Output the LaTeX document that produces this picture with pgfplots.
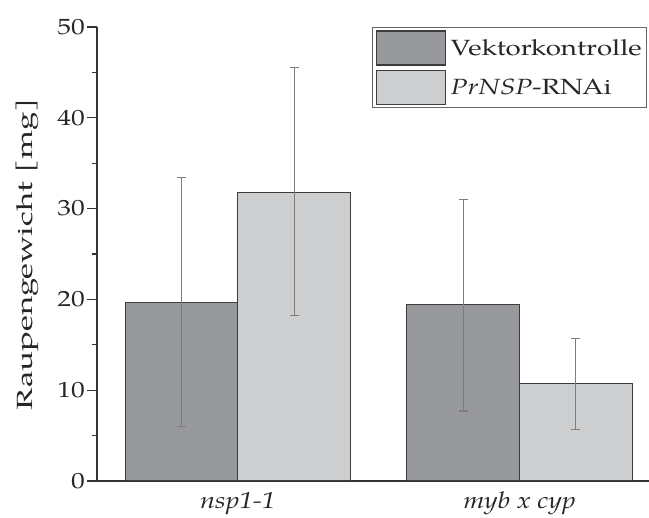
\documentclass[border=0pt]{standalone}
\usepackage{fontspec}
\setmainfont{TeX Gyre Pagella}
\newfontfamily\tickfont{TeX Gyre Pagella}[FakeStretch=1.25]
\newfontfamily\ylabfont{TeX Gyre Pagella}[FakeStretch=1.5]
\newfontfamily\legfont{TeX Gyre Pagella}[FakeStretch=1.26]
\newfontfamily\xlabfont{TeX Gyre Pagella}[FakeStretch=1.18]
\usepackage{pgfplots}
\pgfplotsset{compat=1.18}
\definecolor{darkbar}{RGB}{152,153,157}
\definecolor{lightbar}{RGB}{205,206,208}
\definecolor{edge}{RGB}{60,60,60}
\definecolor{errc}{RGB}{125,125,125}
\begin{document}
\begin{tikzpicture}
\begin{axis}[
  scale only axis, width=552pt, height=454pt,
  xmin=-0.5, xmax=1.46, ymin=0, ymax=50,
  axis x line=bottom, axis y line=left,
  axis line style={-, line width=1.3pt, color=black!80},
  ybar=0pt, bar width=0.4,
  xtick={0,1}, xticklabels={\textit{nsp1-1}, \textit{myb x cyp}},
  x tick style={draw=none},
  ytick={0,10,...,50}, minor y tick num=1,
  tick align=outside,
  major tick length=10pt, minor tick length=5pt,
  y tick style={line width=1.2pt, black!80},
  /pgf/number format/assume math mode=true,
  y tick label style={font=\tickfont\fontsize{22}{24}\selectfont, inner sep=2pt, text=black!85},
  x tick label style={font=\xlabfont\fontsize{23}{26}\selectfont, anchor=base, yshift=-18pt, text=black!85},
  ylabel={Raupengewicht [mg]},
  ylabel style={font=\ylabfont\fontsize{22}{24}\selectfont, inner sep=0pt, text=black!85,
    at={(axis description cs:-0.1051,0.5)}, anchor=south},
  legend style={at={(1,1)}, anchor=north east, xshift=-2pt, draw=black!60, line width=0.8pt,
    font=\legfont\fontsize{22}{24}\selectfont, row sep=4pt, column sep=3pt, inner sep=3pt, text=black!85},
  legend cell align=left,
  legend image code/.code={\draw[#1] (0pt,-17pt) rectangle (69pt,17pt);},
  error bars/y dir=both, error bars/y explicit,
  error bars/error bar style={errc, line width=1.2pt},
  error bars/error mark options={rotate=90, errc, mark size=4.5pt, line width=1.2pt},
]
\addplot[fill=darkbar, draw=edge, line width=1.2pt, bar shift=-0.2]
  coordinates {(0,19.7) += (0,13.7) -= (0,13.7)
               (1,19.4) += (0,11.6) -= (0,11.7)};
\addplot[fill=lightbar, draw=edge, line width=1.2pt, bar shift=0.2]
  coordinates {(0,31.8) += (0,13.7) -= (0,13.6)
               (1,10.7) += (0,5.0) -= (0,5.0)};
\legend{Vektorkontrolle, \textit{PrNSP}-RNAi}
\coordinate (sw) at (rel axis cs:0,0);
\end{axis}
\pgfresetboundingbox
\path[use as bounding box] (sw) ++(-97pt,-37pt) rectangle ++(649pt,518pt);
\end{tikzpicture}
\end{document}
